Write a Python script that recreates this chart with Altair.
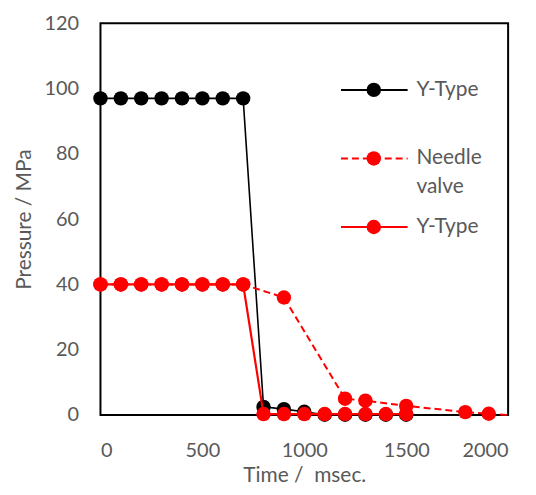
import altair as alt
import pandas as pd

# ---- data ----
time_black = [0, 100, 200, 300, 400, 500, 600, 700, 800, 900, 1000, 1100, 1200, 1300, 1400, 1500]
pres_black = [97, 97, 97, 97, 97, 97, 97, 97, 2.5, 1.8, 1.0, 0.1, 0.1, 0.1, 0.1, 0.1]

time_needle = [0, 100, 200, 300, 400, 500, 600, 700, 900, 1200, 1300, 1500, 1790, 1905, 2000]
pres_needle = [40, 40, 40, 40, 40, 40, 40, 40, 36, 5.0, 4.4, 2.8, 0.9, 0.4, 0.0]
marker_needle = [True, True, True, True, True, True, True, True, True, True, True, True, True, True, False]

time_red = [0, 100, 200, 300, 400, 500, 600, 700, 800, 900, 1000, 1100, 1200, 1300, 1400, 1500]
pres_red = [40, 40, 40, 40, 40, 40, 40, 40, 0.3, 0.3, 0.3, 0.3, 0.3, 0.3, 0.3, 0.3]

x_ticks = [0, 500, 1000, 1500, 2000]
y_ticks = [0, 20, 40, 60, 80, 100, 120]

legend_names = ["Y-Type", "Needle", "Y-Type"]
legend_extra = ["valve"]

FONT = "Lato"
GREY = "#595959"

df_black = pd.DataFrame({"t": time_black, "p": pres_black})
df_needle = pd.DataFrame({"t": time_needle, "p": pres_needle, "m": marker_needle})
df_red = pd.DataFrame({"t": time_red, "p": pres_red})

xs = alt.Scale(domain=[0, 2000], nice=False)
ys = alt.Scale(domain=[0, 120], nice=False)
X = alt.X("t:Q", scale=xs, axis=alt.Axis(values=x_ticks, title="Time / \u00a0msec.", format="d"))
Y = alt.Y("p:Q", scale=ys, axis=alt.Axis(values=y_ticks, title="Pressure / MPa"))

MS = 210

black_line = alt.Chart(df_black).mark_line(color="black", strokeWidth=1.6).encode(x=X, y=Y)
black_pts = alt.Chart(df_black).mark_circle(color="black", size=MS, opacity=1).encode(x=X, y=Y)

needle_line = alt.Chart(df_needle).mark_line(color="#FF0000", strokeWidth=2, strokeDash=[7, 4]).encode(x=X, y=Y)
needle_pts = alt.Chart(df_needle).transform_filter("datum.m").mark_circle(color="#FF0000", size=MS, opacity=1).encode(x=X, y=Y)

red_line = alt.Chart(df_red).mark_line(color="#FF0000", strokeWidth=2.2).encode(x=X, y=Y)
red_pts = alt.Chart(df_red).mark_circle(color="#FF0000", size=MS, opacity=1).encode(x=X, y=Y)

# ---- legend drawn inside the plot (in data units) ----
leg_y = [99.6, 78.6, 57.6]
leg = pd.DataFrame({
    "x1": [1180, 1180, 1180], "x2": [1507, 1507, 1507], "xc": [1341, 1341, 1341],
    "y": leg_y, "name": legend_names,
    "col": ["black", "#FF0000", "#FF0000"], "dash": ["s", "d", "s"],
})
leg_txt = pd.DataFrame({"x": [1550, 1550, 1550, 1550],
                        "y": [99.6, 78.6, 69.7, 57.6],
                        "txt": [legend_names[0], legend_names[1], legend_extra[0], legend_names[2]]})

colscale = alt.Scale(domain=["black", "#FF0000"], range=["black", "#FF0000"])
leg_rule = alt.Chart(leg).mark_rule(strokeWidth=2).encode(
    x=alt.X("x1:Q", scale=xs), x2="x2:Q", y=alt.Y("y:Q", scale=ys),
    color=alt.Color("col:N", scale=colscale, legend=None),
    strokeDash=alt.StrokeDash("dash:N", scale=alt.Scale(domain=["s", "d"], range=[[1, 0], [7, 4]]), legend=None),
)
leg_pt = alt.Chart(leg).mark_circle(size=MS, opacity=1).encode(
    x=alt.X("xc:Q", scale=xs), y=alt.Y("y:Q", scale=ys),
    color=alt.Color("col:N", scale=colscale, legend=None),
)
leg_text = alt.Chart(leg_txt).mark_text(align="left", baseline="middle", font=FONT, fontSize=21, color=GREY).encode(
    x=alt.X("x:Q", scale=xs), y=alt.Y("y:Q", scale=ys), text="txt:N"
)

chart = alt.layer(
    black_line, black_pts, needle_line, needle_pts, red_line, red_pts, leg_rule, leg_pt, leg_text
).properties(
    width=410, height=394,
    autosize=alt.AutoSizeParams(type="none"),
    padding={"left": 93, "top": 14, "right": 20, "bottom": 72},
).configure_view(
    stroke="black", strokeWidth=2
).configure_axis(
    grid=False, ticks=False, domain=False,
    labelFont=FONT, labelFontSize=20, labelColor=GREY,
    titleFont=FONT, titleFontSize=21, titleColor=GREY, titleFontWeight="normal",
).configure_axisX(
    labelPadding=26, titlePadding=4,
).configure_axisY(
    labelPadding=22, titlePadding=10,
)

chart.save("out.html", embed_options={"renderer": "svg", "actions": False})
